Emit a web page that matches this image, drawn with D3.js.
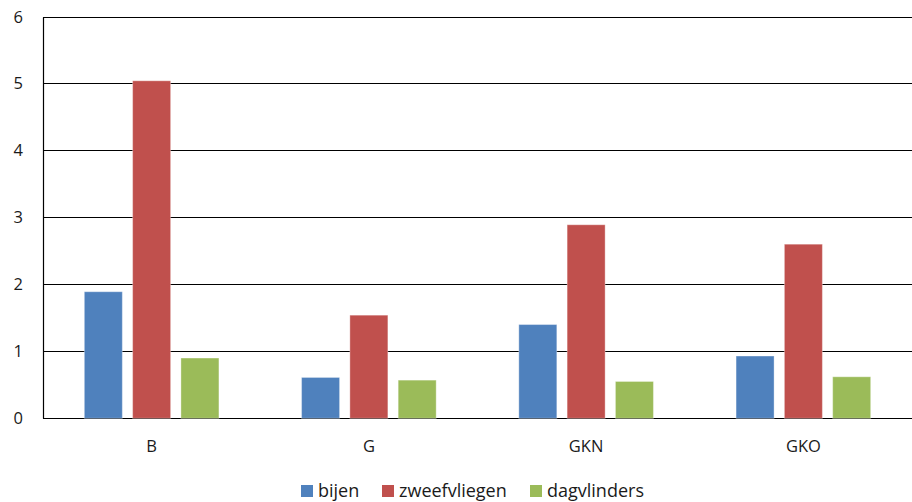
<!DOCTYPE html>
<html>
<head>
<meta charset="utf-8">
<script src="https://cdn.jsdelivr.net/npm/d3@7"></script>
<style>
  html, body { margin: 0; padding: 0; background: #fff; }
  svg text { font-family: "Open Sans", "Noto Sans", sans-serif; fill: #1a1a1a; }
</style>
</head>
<body>
<svg id="chart" width="912" height="502"></svg>
<script>
const categories = ["B", "G", "GKN", "GKO"];
const seriesNames = ["bijen", "zweefvliegen", "dagvlinders"];
const bijen = [1.89, 0.61, 1.40, 0.93];
const zweefvliegen = [5.04, 1.54, 2.89, 2.60];
const dagvlinders = [0.90, 0.57, 0.55, 0.62];
const colors = ["#4F81BD", "#C0504D", "#9BBB59"];
const yTicks = [0, 1, 2, 3, 4, 5, 6];

const series = [bijen, zweefvliegen, dagvlinders];
const svg = d3.select("#chart");
const margin = { left: 43, right: 0, top: 16.5, bottom: 84 };
const W = 912;

const x = d3.scaleBand().domain(categories).range([margin.left, W - margin.right]).paddingInner(0).paddingOuter(0);
const y = d3.scaleLinear().domain([0, 6]).range([418.3, margin.top]);

// horizontal gridlines at each whole unit
svg.append("g").selectAll("line").data(yTicks).join("line")
  .attr("x1", margin.left).attr("x2", W)
  .attr("y1", d => Math.round(y(d)) + 0.5).attr("y2", d => Math.round(y(d)) + 0.5)
  .attr("stroke", "#000").attr("stroke-width", 1.2);

// left axis line
svg.append("line")
  .attr("x1", margin.left + 0.5).attr("x2", margin.left + 0.5)
  .attr("y1", Math.round(y(6)) + 0.5).attr("y2", Math.round(y(0)) + 0.5)
  .attr("stroke", "#000").attr("stroke-width", 1.2);

// y tick labels
svg.append("g").selectAll("text").data(yTicks).join("text")
  .attr("x", 23).attr("y", d => y(d) + 6)
  .attr("text-anchor", "end").attr("font-size", 16.5)
  .text(d => d);

// grouped bars: one series per pass, centred within each category band
const barW = 38, step = 48.3;
series.forEach((vals, si) => {
  svg.append("g").selectAll("rect").data(categories).join("rect")
    .attr("x", c => x(c) + x.bandwidth() / 2 + (si - 1) * step - barW / 2)
    .attr("width", barW)
    .attr("y", (c, i) => y(vals[i]))
    .attr("height", (c, i) => y(0) - y(vals[i]))
    .attr("fill", colors[si])
    .attr("stroke", "rgba(255,255,255,0.35)")
    .attr("stroke-width", 1);
});

// category labels
svg.append("g").selectAll("text").data(categories).join("text")
  .attr("x", c => x(c) + x.bandwidth() / 2)
  .attr("y", 452)
  .attr("text-anchor", "middle").attr("font-size", 16.5)
  .text(c => c);

// legend
const legendX = [301, 382, 530];
const lg = svg.append("g").selectAll("g").data(seriesNames).join("g")
  .attr("transform", (d, i) => `translate(${legendX[i]},0)`);
lg.append("rect").attr("x", 0).attr("y", 485).attr("width", 12).attr("height", 12)
  .attr("fill", (d, i) => colors[i]);
lg.append("text").attr("x", 17).attr("y", 497).attr("font-size", 18).text(d => d);
</script>
</body>
</html>
